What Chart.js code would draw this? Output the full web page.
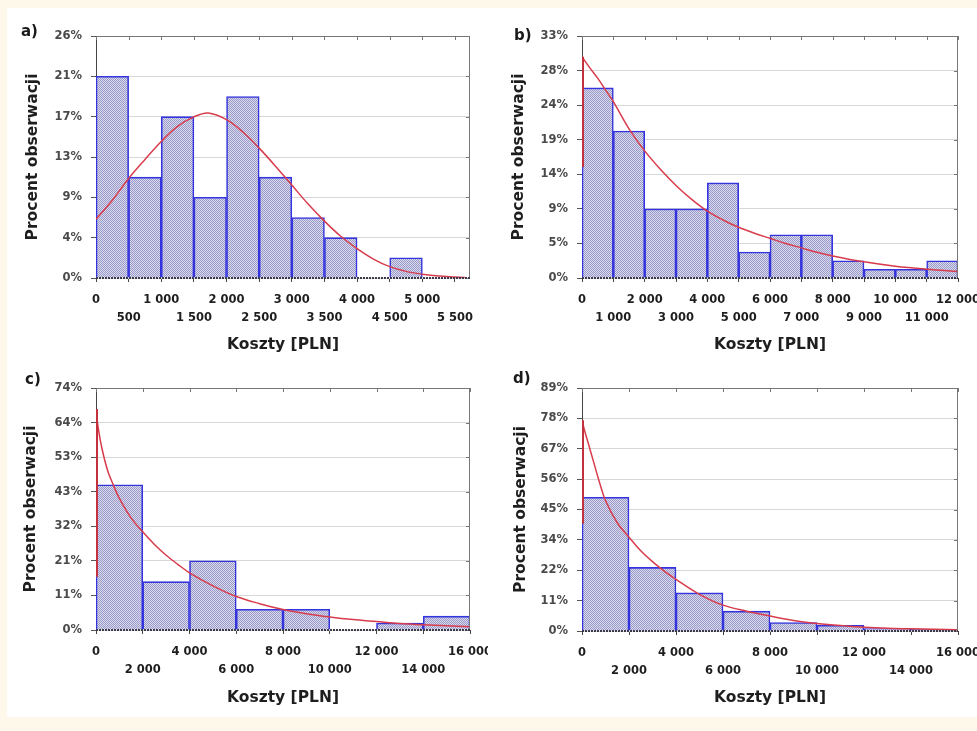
<!DOCTYPE html>
<html>
<head>
<meta charset="utf-8">
<script src="https://cdn.jsdelivr.net/npm/chart.js@4.4.1/dist/chart.umd.min.js"></script>
<style>
  html, body { margin: 0; padding: 0; }
  body { width: 977px; height: 731px; background: #fdf8ea; position: relative; overflow: hidden; }
  .sheet { position: absolute; left: 7px; top: 8px; width: 970px; height: 709px; background: #fff; }
  .panel { position: absolute; height: 360px; }
  .tag { position: absolute; font: bold 15px 'DejaVu Sans', sans-serif; color: #1a1a1a; line-height: 15px; }
</style>
</head>
<body>
<div class="sheet"></div>
<div class="panel" style="left:0;top:0;width:488px"><canvas id="chartA"></canvas></div>
<div class="panel" style="left:488px;top:0;width:489px"><canvas id="chartB"></canvas></div>
<div class="panel" style="left:0;top:360px;width:488px"><canvas id="chartC"></canvas></div>
<div class="panel" style="left:488px;top:360px;width:489px"><canvas id="chartD"></canvas></div>
<div class="tag" style="left:21px;top:24px">a)</div>
<div class="tag" style="left:514px;top:28px">b)</div>
<div class="tag" style="left:25px;top:372px">c)</div>
<div class="tag" style="left:513px;top:371px">d)</div>
<script>
// a) histogram of costs, 500 PLN bins
const binsA = [250, 750, 1250, 1750, 2250, 2750, 3250, 3750, 4250, 4750, 5250];
const pctA = [21.28, 10.64, 17.02, 8.51, 19.15, 10.64, 6.38, 4.26, 0, 2.13, 0];
const curveXA = [0, 250, 500, 750, 1000, 1250, 1500, 1720, 2000, 2250, 2500, 2750, 3000, 3250, 3500, 3750, 4000, 4250, 4500, 4750, 5000, 5250, 5500, 5650];
const curveYA = [6.2, 8.2, 10.5, 12.5, 14.4, 16.0, 17.0, 17.4, 16.7, 15.4, 13.7, 11.8, 9.8, 7.8, 6.0, 4.4, 3.1, 2.0, 1.2, 0.7, 0.4, 0.2, 0.1, 0.05];
const yLabelsA = ['0%', '4%', '9%', '13%', '17%', '21%', '26%'];
const xTicksA = [0, 500, 1000, 1500, 2000, 2500, 3000, 3500, 4000, 4500, 5000, 5500];
const xLabelsA = ['0', '500', '1 000', '1 500', '2 000', '2 500', '3 000', '3 500', '4 000', '4 500', '5 000', '5 500'];

// b) 1000 PLN bins
const binsB = [500, 1500, 2500, 3500, 4500, 5500, 6500, 7500, 8500, 9500, 10500, 11500];
const pctB = [25.88, 20.0, 9.41, 9.41, 12.94, 3.53, 5.88, 5.88, 2.35, 1.18, 1.18, 2.35];
const spikeB = [15.1, 30.1];
const curveXB = [0, 250, 500, 750, 1000, 1500, 2000, 2500, 3000, 3500, 4000, 4500, 5000, 5500, 6000, 6500, 7000, 7500, 8000, 9000, 10000, 11000, 12000];
const curveYB = [30.1, 28.6, 27.2, 25.6, 24.0, 20.3, 17.3, 14.8, 12.6, 10.7, 9.1, 7.9, 6.9, 6.1, 5.4, 4.7, 4.1, 3.5, 3.0, 2.2, 1.6, 1.2, 0.9];
const yLabelsB = ['0%', '5%', '9%', '14%', '19%', '24%', '28%', '33%'];
const xTicksB = [0, 1000, 2000, 3000, 4000, 5000, 6000, 7000, 8000, 9000, 10000, 11000, 12000];
const xLabelsB = ['0', '1 000', '2 000', '3 000', '4 000', '5 000', '6 000', '7 000', '8 000', '9 000', '10 000', '11 000', '12 000'];

// c) 2000 PLN bins
const binsC = [1000, 3000, 5000, 7000, 9000, 11000, 13000, 15000];
const pctC = [44.68, 14.89, 21.28, 6.38, 6.38, 0, 2.13, 4.26];
const spikeC = [16.4, 68.0];
const curveXC = [0, 100, 250, 500, 750, 1000, 1500, 2000, 2500, 3000, 3500, 4000, 5000, 6000, 7000, 8000, 9000, 10000, 11000, 12000, 13000, 14000, 15000, 16000];
const curveYC = [68.0, 62.0, 56.0, 49.0, 44.5, 40.5, 34.5, 30.2, 26.3, 23.0, 20.2, 17.6, 13.6, 10.3, 8.1, 6.3, 5.0, 4.0, 3.2, 2.6, 2.0, 1.6, 1.3, 1.0];
const yLabelsC = ['0%', '11%', '21%', '32%', '43%', '53%', '64%', '74%'];
const xTicksC = [0, 2000, 4000, 6000, 8000, 10000, 12000, 14000, 16000];
const xLabelsC = ['0', '2 000', '4 000', '6 000', '8 000', '10 000', '12 000', '14 000', '16 000'];

// d) 2000 PLN bins
const binsD = [1000, 3000, 5000, 7000, 9000, 11000, 13000, 15000];
const pctD = [49.2, 23.4, 14.0, 7.3, 3.1, 2.1, 0.9, 0.6];
const spikeD = [39.4, 77.5];
const curveXD = [0, 100, 250, 500, 750, 1000, 1500, 2000, 2500, 3000, 3500, 4000, 5000, 6000, 7000, 8000, 9000, 10000, 11000, 12000, 13000, 14000, 15000, 16000];
const curveYD = [77.5, 74.0, 69.5, 62.0, 54.5, 48.0, 39.8, 34.5, 29.5, 25.5, 22.0, 19.0, 13.5, 9.5, 7.3, 5.5, 3.9, 2.8, 2.0, 1.4, 1.0, 0.8, 0.6, 0.5];
const yLabelsD = ['0%', '11%', '22%', '34%', '45%', '56%', '67%', '78%', '89%'];
const xTicksD = [0, 2000, 4000, 6000, 8000, 10000, 12000, 14000, 16000];
const xLabelsD = ['0', '2 000', '4 000', '6 000', '8 000', '10 000', '12 000', '14 000', '16 000'];

const FONT = 'DejaVu Sans';

// fine blue/white crosshatch like the original bars
const makeHatch = () => {
  const c = document.createElement('canvas');
  c.width = 2;
  c.height = 2;
  const g = c.getContext('2d');
  g.fillStyle = '#dadaee';
  g.fillRect(0, 0, 2, 2);
  g.fillStyle = '#9a9ac8';
  g.fillRect(0, 0, 1, 1);
  g.fillRect(1, 1, 1, 1);
  return g.createPattern(c, 'repeat');
};

// plot frame, inward ticks on top/right and the dotted zero line
const framePlugin = {
  id: 'frame',
  beforeDatasetsDraw: (chart) => {
    const { ctx, chartArea: a } = chart;
    ctx.save();
    ctx.lineWidth = 1;
    ctx.strokeStyle = '#444';
    ctx.beginPath();
    ctx.moveTo(a.left + 0.5, a.top);
    ctx.lineTo(a.left + 0.5, a.bottom);
    ctx.stroke();
    ctx.restore();
  },
  afterDatasetsDraw: (chart) => {
    const { ctx, chartArea: a, scales } = chart;
    ctx.save();
    ctx.lineWidth = 1;
    ctx.strokeStyle = '#777';
    ctx.beginPath();
    ctx.moveTo(a.left, a.top + 0.5);
    ctx.lineTo(a.right - 0.5, a.top + 0.5);
    ctx.lineTo(a.right - 0.5, a.bottom);
    scales.x.ticks.forEach((t) => {
      const px = Math.round(scales.x.getPixelForValue(t.value)) + 0.5;
      ctx.moveTo(px, a.top);
      ctx.lineTo(px, a.top + 4);
    });
    scales.y.ticks.forEach((t) => {
      const py = Math.round(scales.y.getPixelForValue(t.value)) + 0.5;
      ctx.moveTo(a.right, py);
      ctx.lineTo(a.right - 4, py);
    });
    ctx.stroke();
    ctx.lineWidth = 2;
    ctx.strokeStyle = '#3a3a4a';
    ctx.setLineDash([2, 1]);
    ctx.beginPath();
    ctx.moveTo(a.left, a.bottom);
    ctx.lineTo(a.right, a.bottom);
    ctx.stroke();
    ctx.restore();
  },
};

const createHistogram = (id, cfg) => {
  const datasets = [
    {
      type: 'line',
      data: cfg.curveX.map((x, i) => ({ x, y: cfg.curveY[i] })),
      borderColor: '#d83c4c',
      borderWidth: 1.5,
      pointRadius: 0,
      tension: 0.35,
      order: 1,
    },
    {
      type: 'bar',
      data: cfg.bins.map((x, i) => ({ x, y: cfg.pct[i] })),
      backgroundColor: makeHatch(),
      borderColor: '#3434de',
      borderWidth: 1.6,
      barPercentage: 1,
      categoryPercentage: 1,
      order: 2,
    },
  ];
  if (cfg.spike) {
    // vertical start of the fitted curve along the left axis
    datasets.push({
      type: 'line',
      data: cfg.spike.map((y) => ({ x: 0, y })),
      borderColor: '#c4303c',
      borderWidth: 4,
      pointRadius: 0,
      clip: { left: 0, top: 2, right: 2, bottom: 2 },
      order: 0,
    });
  }
  const yMax = cfg.yMax;
  new Chart(document.getElementById(id), {
    type: 'bar',
    data: { datasets },
    plugins: [framePlugin],
    options: {
      responsive: true,
      maintainAspectRatio: false,
      animation: false,
      layout: { padding: { left: 0, top: cfg.top, right: cfg.right, bottom: 0 } },
      plugins: { legend: { display: false }, tooltip: { enabled: false } },
      scales: {
        x: {
          type: 'linear',
          min: 0,
          max: cfg.xMax,
          offset: false,
          afterBuildTicks: (s) => {
            s.ticks = cfg.xTicks.map((value) => ({ value }));
          },
          afterFit: (s) => {
            s.height = cfg.xHeight;
            s.paddingLeft = 0;
            s.paddingRight = 0;
          },
          grid: { offset: false, drawOnChartArea: false, tickLength: 4, color: '#444' },
          border: { display: false },
          ticks: {
            autoSkip: false,
            maxRotation: 0,
            padding: 9,
            color: '#1e1e1e',
            font: { family: FONT, weight: 'bold', size: 11.5, lineHeight: '18px' },
            callback: (v, i) => (i % 2 === 0 ? [cfg.xLabels[i], ''] : ['', cfg.xLabels[i]]),
          },
          title: {
            display: true,
            text: 'Koszty [PLN]',
            color: '#1e1e1e',
            font: { family: FONT, weight: 'bold', size: 15.5 },
            padding: { top: 0, bottom: cfg.titlePad },
          },
        },
        y: {
          min: 0,
          max: yMax,
          afterBuildTicks: (s) => {
            s.ticks = cfg.yLabels.map((_, i) => ({ value: (i * yMax) / (cfg.yLabels.length - 1) }));
          },
          afterFit: (s) => {
            s.width = cfg.yWidth;
            s.paddingTop = 0;
            s.paddingBottom = 0;
          },
          grid: { color: '#d8d8d8', tickColor: '#555', tickLength: 5 },
          border: { display: false },
          ticks: {
            padding: 9,
            color: '#4a4a4a',
            font: { family: FONT, weight: 'bold', size: 11.5 },
            callback: (v, i) => cfg.yLabels[i],
          },
          title: {
            display: true,
            text: 'Procent obserwacji',
            color: '#1e1e1e',
            font: { family: FONT, weight: 'bold', size: 15.5 },
            padding: { top: cfg.yTitlePad, bottom: 0 },
          },
        },
      },
    },
  });
};

createHistogram('chartA', {
  bins: binsA, pct: pctA, curveX: curveXA, curveY: curveYA,
  yLabels: yLabelsA, yMax: 25.53, xTicks: xTicksA, xLabels: xLabelsA, xMax: 5730,
  top: 36, right: 18, yWidth: 96, xHeight: 82, titlePad: 6, yTitlePad: 24,
});
createHistogram('chartB', {
  bins: binsB, pct: pctB, spike: spikeB, curveX: curveXB, curveY: curveYB,
  yLabels: yLabelsB, yMax: 32.94, xTicks: xTicksB, xLabels: xLabelsB, xMax: 12000,
  top: 36, right: 19, yWidth: 94, xHeight: 82, titlePad: 6, yTitlePad: 22,
});
createHistogram('chartC', {
  bins: binsC, pct: pctC, spike: spikeC, curveX: curveXC, curveY: curveYC,
  yLabels: yLabelsC, yMax: 74.47, xTicks: xTicksC, xLabels: xLabelsC, xMax: 16000,
  top: 28, right: 18, yWidth: 96, xHeight: 90, titlePad: 13, yTitlePad: 22,
});
createHistogram('chartD', {
  bins: binsD, pct: pctD, spike: spikeD, curveX: curveXD, curveY: curveYD,
  yLabels: yLabelsD, yMax: 89.36, xTicks: xTicksD, xLabels: xLabelsD, xMax: 16000,
  top: 28, right: 19, yWidth: 94, xHeight: 89, titlePad: 13, yTitlePad: 24,
});
</script>
</body>
</html>
